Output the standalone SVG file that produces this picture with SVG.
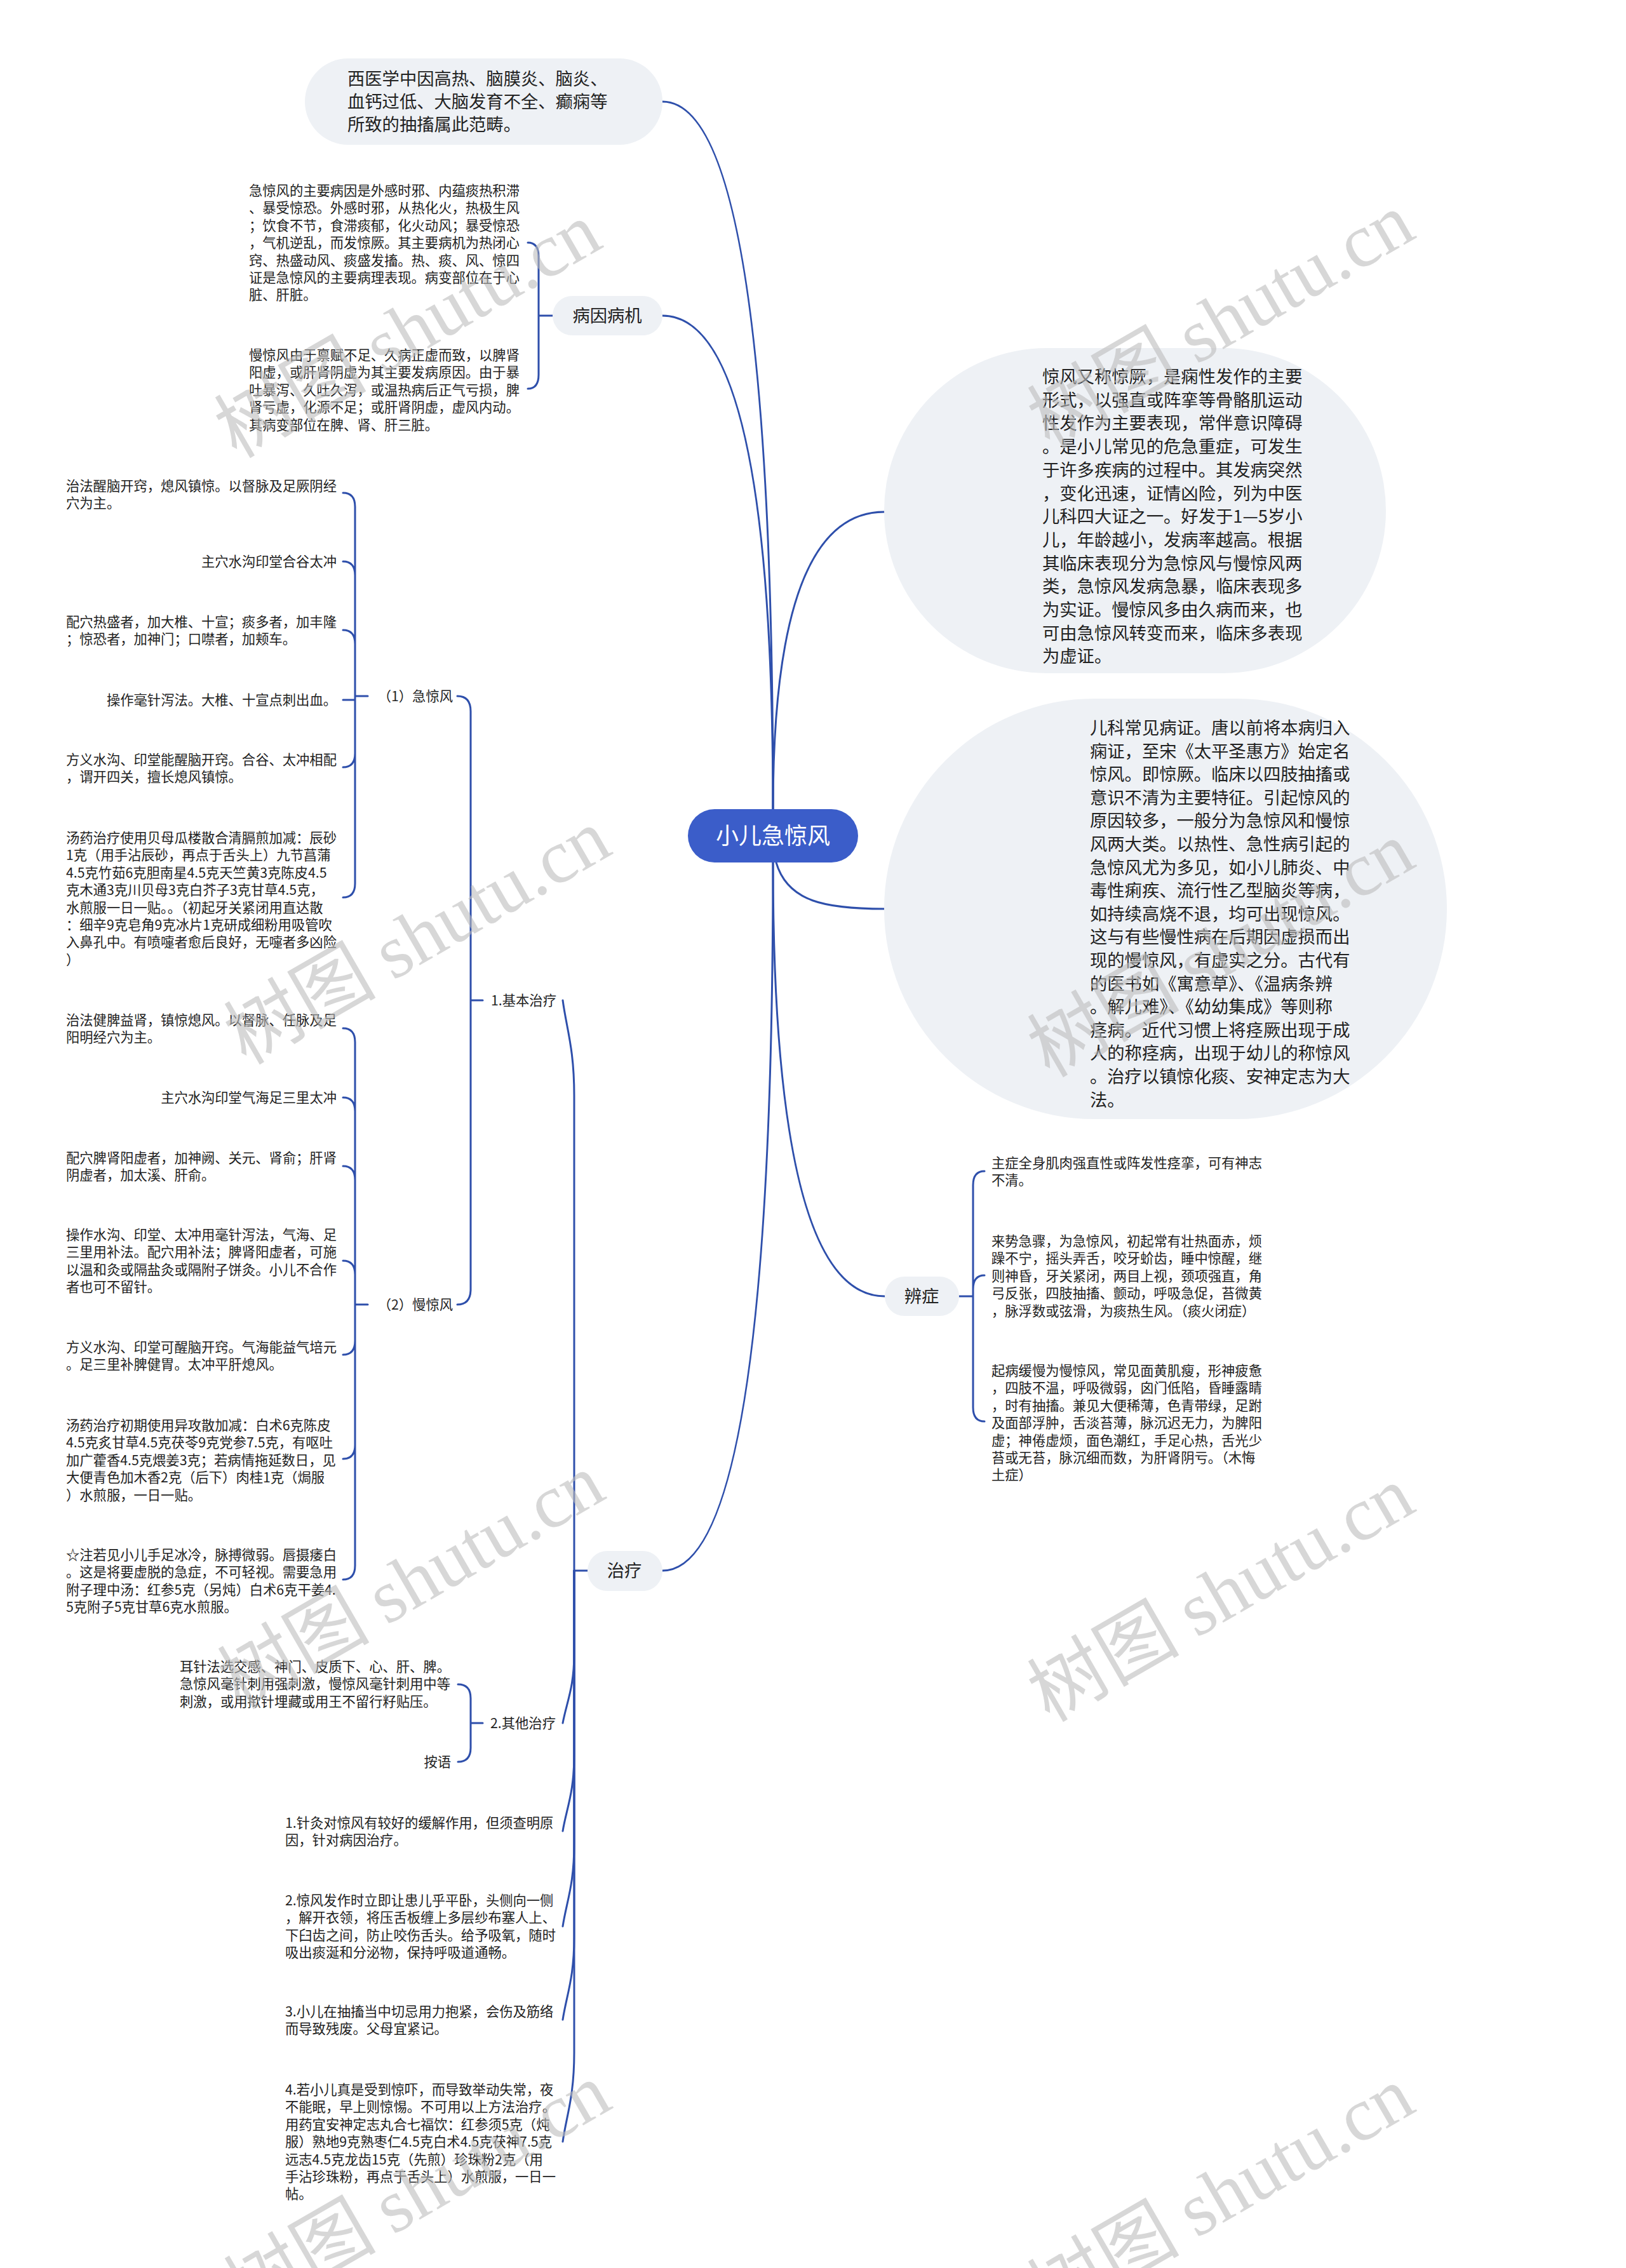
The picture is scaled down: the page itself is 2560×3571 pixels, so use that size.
<svg xmlns="http://www.w3.org/2000/svg" width="2560" height="3571" viewBox="0 0 2560 3571">
<style>
.ln{fill:none;stroke:#2e4fab;stroke-width:3;stroke-linecap:round}
.bub{fill:#eef1f5}
.t{font-family:"Noto Sans CJK SC","Noto Sans",sans-serif;fill:#222}
.s{font-size:21.3px}
.m{font-size:27.3px}
.e{text-anchor:end}
.mid{text-anchor:middle}
.wm{font-family:"Noto Sans CJK SC",sans-serif;font-size:120px;fill:#bdbdbd;fill-opacity:0.6;text-anchor:middle}
.wm .sv{font-family:"Liberation Serif",serif}
</style>
<rect width="2560" height="3571" fill="#ffffff"/>
<g id="connectors">
<path class="ln" d="M1217,1274 Q1217,160 1043,160"/>
<path class="ln" d="M1217,1274 Q1217,497 1043,497"/>
<path class="ln" d="M1217,1274 Q1217,806 1392,806"/>
<path class="ln" d="M1222,1358 C1240,1420 1300,1431 1392,1431"/>
<path class="ln" d="M1217,1358 Q1217,2041 1393,2041"/>
<path class="ln" d="M1217,1358 Q1217,2473 1043,2473"/>
<path class="ln" d="M870,497 L848,497 M848,497 L848,404 Q848,382 831,382 M848,497 L848,590 Q848,612 831,612"/>
<path class="ln" d="M1510,2041 L1532,2041 M1532,2041 L1532,1866 Q1532,1844 1550,1844 M1532,2041 L1532,2030 Q1532,2008 1550,2008 M1532,2041 L1532,2216 Q1532,2238 1550,2238"/>
<path class="ln" d="M925,2473 L904,2473"/>
<path class="ln" d="M904,2473 L904,1725 C904,1650 892,1620 886,1575"/>
<path class="ln" d="M904,2473 L904,2603 C904,2658 892,2680 886,2713"/>
<path class="ln" d="M904,2473 L904,2763 C904,2823 892,2847 886,2883"/>
<path class="ln" d="M904,2473 L904,2903 C904,2968 892,2994 886,3033"/>
<path class="ln" d="M904,2473 L904,3050 C904,3115 892,3141 886,3180"/>
<path class="ln" d="M904,2473 L904,3232 C904,3302 892,3330 886,3372"/>
<path class="ln" d="M760,1575 L741,1575 M741,1575 L741,1120 Q741,1096 720,1096 M741,1575 L741,2030 Q741,2054 720,2054"/>
<path class="ln" d="M579,1096 L559,1096 M559,1096 L559,798 Q559,776 540,776 M559,1096 L559,906 Q559,884 540,884 M559,1096 L559,1014 Q559,992 540,992 M559,1102 L540,1102 M559,1096 L559,1186 Q559,1208 540,1208 M559,1096 L559,1391 Q559,1413 540,1413"/>
<path class="ln" d="M579,2054 L559,2054 M559,2054 L559,1641 Q559,1619 540,1619 M559,2054 L559,1750 Q559,1728 540,1728 M559,2054 L559,1858 Q559,1836 540,1836 M559,2054 L559,2007 Q559,1985 540,1985 M559,2054 L559,2111 Q559,2133 540,2133 M559,2054 L559,2275 Q559,2297 540,2297 M559,2054 L559,2465 Q559,2487 540,2487"/>
<path class="ln" d="M760,2713 L741,2713 M741,2713 L741,2674 Q741,2652 721,2652 M741,2713 L741,2752 Q741,2774 721,2774"/>
</g>
<g id="root">
<rect x="1083" y="1274" width="268" height="84" rx="42" fill="#3b5dc9"/>
<text class="mid" x="1217" y="1329" font-family="Noto Sans CJK SC, sans-serif" font-size="36" fill="#ffffff">小儿急惊风</text>
</g>
<g id="n-xiyi">
<rect class="bub" x="480" y="92" width="563" height="136" rx="68"/>
<text class="t m" x="547" y="134"><tspan x="547">西医学中因高热、脑膜炎、脑炎、</tspan><tspan x="547" dy="36">血钙过低、大脑发育不全、癫痫等</tspan><tspan x="547" dy="36">所致的抽搐属此范畴。</tspan></text>
</g>
<g id="n-bingyin">
<rect class="bub" x="870" y="466" width="173" height="62" rx="31"/>
<text class="t m mid" x="956" y="507">病因病机</text>
</g>
<g id="n-bingyin-1">
<text class="t s" x="392" y="308"><tspan x="392">急惊风的主要病因是外感时邪、内蕴痰热积滞</tspan><tspan x="392" dy="27.4">、暴受惊恐。外感时邪，从热化火，热极生风</tspan><tspan x="392" dy="27.4">；饮食不节，食滞痰郁，化火动风；暴受惊恐</tspan><tspan x="392" dy="27.4">，气机逆乱，而发惊厥。其主要病机为热闭心</tspan><tspan x="392" dy="27.4">窍、热盛动风、痰盛发搐。热、痰、风、惊四</tspan><tspan x="392" dy="27.4">证是急惊风的主要病理表现。病变部位在于心</tspan><tspan x="392" dy="27.4">脏、肝脏。</tspan></text>
</g>
<g id="n-bingyin-2">
<text class="t s" x="392" y="567"><tspan x="392">慢惊风由于禀赋不足、久病正虚而致，以脾肾</tspan><tspan x="392" dy="27.4">阳虚，或肝肾阴虚为其主要发病原因。由于暴</tspan><tspan x="392" dy="27.4">吐暴泻、久吐久泻，或温热病后正气亏损，脾</tspan><tspan x="392" dy="27.4">肾亏虚，化源不足；或肝肾阴虚，虚风内动。</tspan><tspan x="392" dy="27.4">其病变部位在脾、肾、肝三脏。</tspan></text>
</g>
<g id="n-def">
<rect class="bub" x="1392" y="548" width="790" height="512" rx="256"/>
<text class="t m" x="1641" y="603"><tspan x="1641">惊风又称惊厥，是痫性发作的主要</tspan><tspan x="1641" dy="36.7">形式，以强直或阵挛等骨骼肌运动</tspan><tspan x="1641" dy="36.7">性发作为主要表现，常伴意识障碍</tspan><tspan x="1641" dy="36.7">。是小儿常见的危急重症，可发生</tspan><tspan x="1641" dy="36.7">于许多疾病的过程中。其发病突然</tspan><tspan x="1641" dy="36.7">，变化迅速，证情凶险，列为中医</tspan><tspan x="1641" dy="36.7">儿科四大证之一。好发于1—5岁小</tspan><tspan x="1641" dy="36.7">儿，年龄越小，发病率越高。根据</tspan><tspan x="1641" dy="36.7">其临床表现分为急惊风与慢惊风两</tspan><tspan x="1641" dy="36.7">类，急惊风发病急暴，临床表现多</tspan><tspan x="1641" dy="36.7">为实证。慢惊风多由久病而来，也</tspan><tspan x="1641" dy="36.7">可由急惊风转变而来，临床多表现</tspan><tspan x="1641" dy="36.7">为虚证。</tspan></text>
</g>
<g id="n-intro">
<rect class="bub" x="1392" y="1100" width="886" height="662" rx="331"/>
<text class="t m" x="1716" y="1156"><tspan x="1716">儿科常见病证。唐以前将本病归入</tspan><tspan x="1716" dy="36.6">痫证，至宋《太平圣惠方》始定名</tspan><tspan x="1716" dy="36.6">惊风。即惊厥。临床以四肢抽搐或</tspan><tspan x="1716" dy="36.6">意识不清为主要特征。引起惊风的</tspan><tspan x="1716" dy="36.6">原因较多，一般分为急惊风和慢惊</tspan><tspan x="1716" dy="36.6">风两大类。以热性、急性病引起的</tspan><tspan x="1716" dy="36.6">急惊风尤为多见，如小儿肺炎、中</tspan><tspan x="1716" dy="36.6">毒性痢疾、流行性乙型脑炎等病，</tspan><tspan x="1716" dy="36.6">如持续高烧不退，均可出现惊风。</tspan><tspan x="1716" dy="36.6">这与有些慢性病在后期因虚损而出</tspan><tspan x="1716" dy="36.6">现的慢惊风，有虚实之分。古代有</tspan><tspan x="1716" dy="36.6">的医书如《寓意草》、《温病条辨</tspan><tspan x="1716" dy="36.6">。解儿难》、《幼幼集成》等则称</tspan><tspan x="1716" dy="36.6">痉病。近代习惯上将痉厥出现于成</tspan><tspan x="1716" dy="36.6">人的称痉病，出现于幼儿的称惊风</tspan><tspan x="1716" dy="36.6">。治疗以镇惊化痰、安神定志为大</tspan><tspan x="1716" dy="36.6">法。</tspan></text>
</g>
<g id="n-bianzheng">
<rect class="bub" x="1393" y="2010" width="117" height="62" rx="31"/>
<text class="t m mid" x="1451" y="2051">辨症</text>
</g>
<g id="n-bz-1">
<text class="t s" x="1561" y="1839"><tspan x="1561">主症全身肌肉强直性或阵发性痉挛，可有神志</tspan><tspan x="1561" dy="27.4">不清。</tspan></text>
</g>
<g id="n-bz-2">
<text class="t s" x="1561" y="1962"><tspan x="1561">来势急骤，为急惊风，初起常有壮热面赤，烦</tspan><tspan x="1561" dy="27.4">躁不宁，摇头弄舌，咬牙蚧齿，睡中惊醒，继</tspan><tspan x="1561" dy="27.4">则神昏，牙关紧闭，两目上视，颈项强直，角</tspan><tspan x="1561" dy="27.4">弓反张，四肢抽搐、颤动，呼吸急促，苔微黄</tspan><tspan x="1561" dy="27.4">，脉浮数或弦滑，为痰热生风。（痰火闭症）</tspan></text>
</g>
<g id="n-bz-3">
<text class="t s" x="1561" y="2166"><tspan x="1561">起病缓慢为慢惊风，常见面黄肌瘦，形神疲惫</tspan><tspan x="1561" dy="27.4">，四肢不温，呼吸微弱，囟门低陷，昏睡露睛</tspan><tspan x="1561" dy="27.4">，时有抽搐。兼见大便稀薄，色青带绿，足跗</tspan><tspan x="1561" dy="27.4">及面部浮肿，舌淡苔薄，脉沉迟无力，为脾阳</tspan><tspan x="1561" dy="27.4">虚；神倦虚烦，面色潮红，手足心热，舌光少</tspan><tspan x="1561" dy="27.4">苔或无苔，脉沉细而数，为肝肾阴亏。（木悔</tspan><tspan x="1561" dy="27.4">土症）</tspan></text>
</g>
<g id="n-zhiliao">
<rect class="bub" x="925" y="2442" width="118" height="63" rx="31"/>
<text class="t m mid" x="983" y="2483">治疗</text>
</g>
<g id="n-jiben">
<text class="t s" x="773" y="1583">1.基本治疗</text>
</g>
<g id="n-ji">
<text class="t s e" x="713" y="1104">（1）急惊风</text>
</g>
<g id="n-ji-1">
<text class="t s" x="104" y="773"><tspan x="104">治法醒脑开窍，熄风镇惊。以督脉及足厥阴经</tspan><tspan x="104" dy="27.4">穴为主。</tspan></text>
</g>
<g id="n-ji-2"><text class="t s e" x="530" y="892">主穴水沟印堂合谷太冲</text></g>
<g id="n-ji-3">
<text class="t s" x="104" y="987"><tspan x="104">配穴热盛者，加大椎、十宣；痰多者，加丰隆</tspan><tspan x="104" dy="27.4">；惊恐者，加神门；口噤者，加颊车。</tspan></text>
</g>
<g id="n-ji-4"><text class="t s e" x="530" y="1110">操作毫针泻法。大椎、十宣点刺出血。</text></g>
<g id="n-ji-5">
<text class="t s" x="104" y="1204"><tspan x="104">方义水沟、印堂能醒脑开窍。合谷、太冲相配</tspan><tspan x="104" dy="27.4">，谓开四关，擅长熄风镇惊。</tspan></text>
</g>
<g id="n-ji-6">
<text class="t s" x="104" y="1327"><tspan x="104">汤药治疗使用贝母瓜楼散合清膈煎加减：辰砂</tspan><tspan x="104" dy="27.4">1克（用手沾辰砂，再点于舌头上）九节菖蒲</tspan><tspan x="104" dy="27.4">4.5克竹茹6克胆南星4.5克天竺黄3克陈皮4.5</tspan><tspan x="104" dy="27.4">克木通3克川贝母3克白芥子3克甘草4.5克，</tspan><tspan x="104" dy="27.4">水煎服一日一贴。。（初起牙关紧闭用直达散</tspan><tspan x="104" dy="27.4">：细辛9克皂角9克冰片1克研成细粉用吸管吹</tspan><tspan x="104" dy="27.4">入鼻孔中。有喷嚏者愈后良好，无嚏者多凶险</tspan><tspan x="104" dy="27.4">）</tspan></text>
</g>
<g id="n-man">
<text class="t s e" x="713" y="2062">（2）慢惊风</text>
</g>
<g id="n-man-1">
<text class="t s" x="104" y="1614"><tspan x="104">治法健脾益肾，镇惊熄风。以督脉、任脉及足</tspan><tspan x="104" dy="27.4">阳明经穴为主。</tspan></text>
</g>
<g id="n-man-2"><text class="t s e" x="530" y="1736">主穴水沟印堂气海足三里太冲</text></g>
<g id="n-man-3">
<text class="t s" x="104" y="1831"><tspan x="104">配穴脾肾阳虚者，加神阙、关元、肾俞；肝肾</tspan><tspan x="104" dy="27.4">阴虚者，加太溪、肝俞。</tspan></text>
</g>
<g id="n-man-4">
<text class="t s" x="104" y="1952"><tspan x="104">操作水沟、印堂、太冲用毫针泻法，气海、足</tspan><tspan x="104" dy="27.4">三里用补法。配穴用补法；脾肾阳虚者，可施</tspan><tspan x="104" dy="27.4">以温和灸或隔盐灸或隔附子饼灸。小儿不合作</tspan><tspan x="104" dy="27.4">者也可不留针。</tspan></text>
</g>
<g id="n-man-5">
<text class="t s" x="104" y="2129"><tspan x="104">方义水沟、印堂可醒脑开窍。气海能益气培元</tspan><tspan x="104" dy="27.4">。足三里补脾健胃。太冲平肝熄风。</tspan></text>
</g>
<g id="n-man-6">
<text class="t s" x="104" y="2252"><tspan x="104">汤药治疗初期使用异攻散加减：白术6克陈皮</tspan><tspan x="104" dy="27.4">4.5克炙甘草4.5克茯苓9克党参7.5克，有呕吐</tspan><tspan x="104" dy="27.4">加广藿香4.5克煨姜3克；若病情拖延数日，见</tspan><tspan x="104" dy="27.4">大便青色加木香2克（后下）肉桂1克（焗服</tspan><tspan x="104" dy="27.4">）水煎服，一日一贴。</tspan></text>
</g>
<g id="n-man-7">
<text class="t s" x="104" y="2456"><tspan x="104">☆注若见小儿手足冰冷，脉搏微弱。唇摄痿白</tspan><tspan x="104" dy="27.4">。这是将要虚脱的急症，不可轻视。需要急用</tspan><tspan x="104" dy="27.4">附子理中汤：红参5克（另炖）白术6克干姜4.</tspan><tspan x="104" dy="27.4">5克附子5克甘草6克水煎服。</tspan></text>
</g>
<g id="n-qita">
<text class="t s" x="772" y="2721">2.其他治疗</text>
</g>
<g id="n-qita-1">
<text class="t s" x="283" y="2632"><tspan x="283">耳针法选交感、神门、皮质下、心、肝、脾。</tspan><tspan x="283" dy="27.4">急惊风毫针刺用强刺激，慢惊风毫针刺用中等</tspan><tspan x="283" dy="27.4">刺激，或用揿针埋藏或用王不留行籽贴压。</tspan></text>
</g>
<g id="n-qita-2"><text class="t s e" x="710" y="2782">按语</text></g>
<g id="n-note-1">
<text class="t s" x="449" y="2878"><tspan x="449">1.针灸对惊风有较好的缓解作用，但须查明原</tspan><tspan x="449" dy="27.4">因，针对病因治疗。</tspan></text>
</g>
<g id="n-note-2">
<text class="t s" x="449" y="3000"><tspan x="449">2.惊风发作时立即让患儿乎平卧，头侧向一侧</tspan><tspan x="449" dy="27.4">，解开衣领，将压舌板缠上多层纱布塞人上、</tspan><tspan x="449" dy="27.4">下臼齿之间，防止咬伤舌头。给予吸氧，随时</tspan><tspan x="449" dy="27.4">吸出痰涎和分泌物，保持呼吸道通畅。</tspan></text>
</g>
<g id="n-note-3">
<text class="t s" x="449" y="3175"><tspan x="449">3.小儿在抽搐当中切忌用力抱紧，会伤及筋络</tspan><tspan x="449" dy="27.4">而导致残废。父母宜紧记。</tspan></text>
</g>
<g id="n-note-4">
<text class="t s" x="449" y="3298"><tspan x="449">4.若小儿真是受到惊吓，而导致举动失常，夜</tspan><tspan x="449" dy="27.4">不能眠，早上则惊惕。不可用以上方法治疗。</tspan><tspan x="449" dy="27.4">用药宜安神定志丸合七福饮：红参须5克（炖</tspan><tspan x="449" dy="27.4">服）熟地9克熟枣仁4.5克白术4.5克茯神7.5克</tspan><tspan x="449" dy="27.4">远志4.5克龙齿15克（先煎）珍珠粉2克（用</tspan><tspan x="449" dy="27.4">手沾珍珠粉，再点于舌头上）水煎服，一日一</tspan><tspan x="449" dy="27.4">帖。</tspan></text>
</g>
<g id="watermarks" class="wm">
<text x="645" y="560" transform="rotate(-30 645 525)">树图 <tspan class="sv">shutu.cn</tspan></text>
<text x="1925" y="545" transform="rotate(-30 1925 510)">树图 <tspan class="sv">shutu.cn</tspan></text>
<text x="660" y="1515" transform="rotate(-30 660 1480)">树图 <tspan class="sv">shutu.cn</tspan></text>
<text x="1925" y="1535" transform="rotate(-30 1925 1500)">树图 <tspan class="sv">shutu.cn</tspan></text>
<text x="650" y="2530" transform="rotate(-30 650 2495)">树图 <tspan class="sv">shutu.cn</tspan></text>
<text x="1925" y="2550" transform="rotate(-30 1925 2515)">树图 <tspan class="sv">shutu.cn</tspan></text>
<text x="660" y="3490" transform="rotate(-30 660 3455)">树图 <tspan class="sv">shutu.cn</tspan></text>
<text x="1925" y="3495" transform="rotate(-30 1925 3460)">树图 <tspan class="sv">shutu.cn</tspan></text>
</g>
</svg>
